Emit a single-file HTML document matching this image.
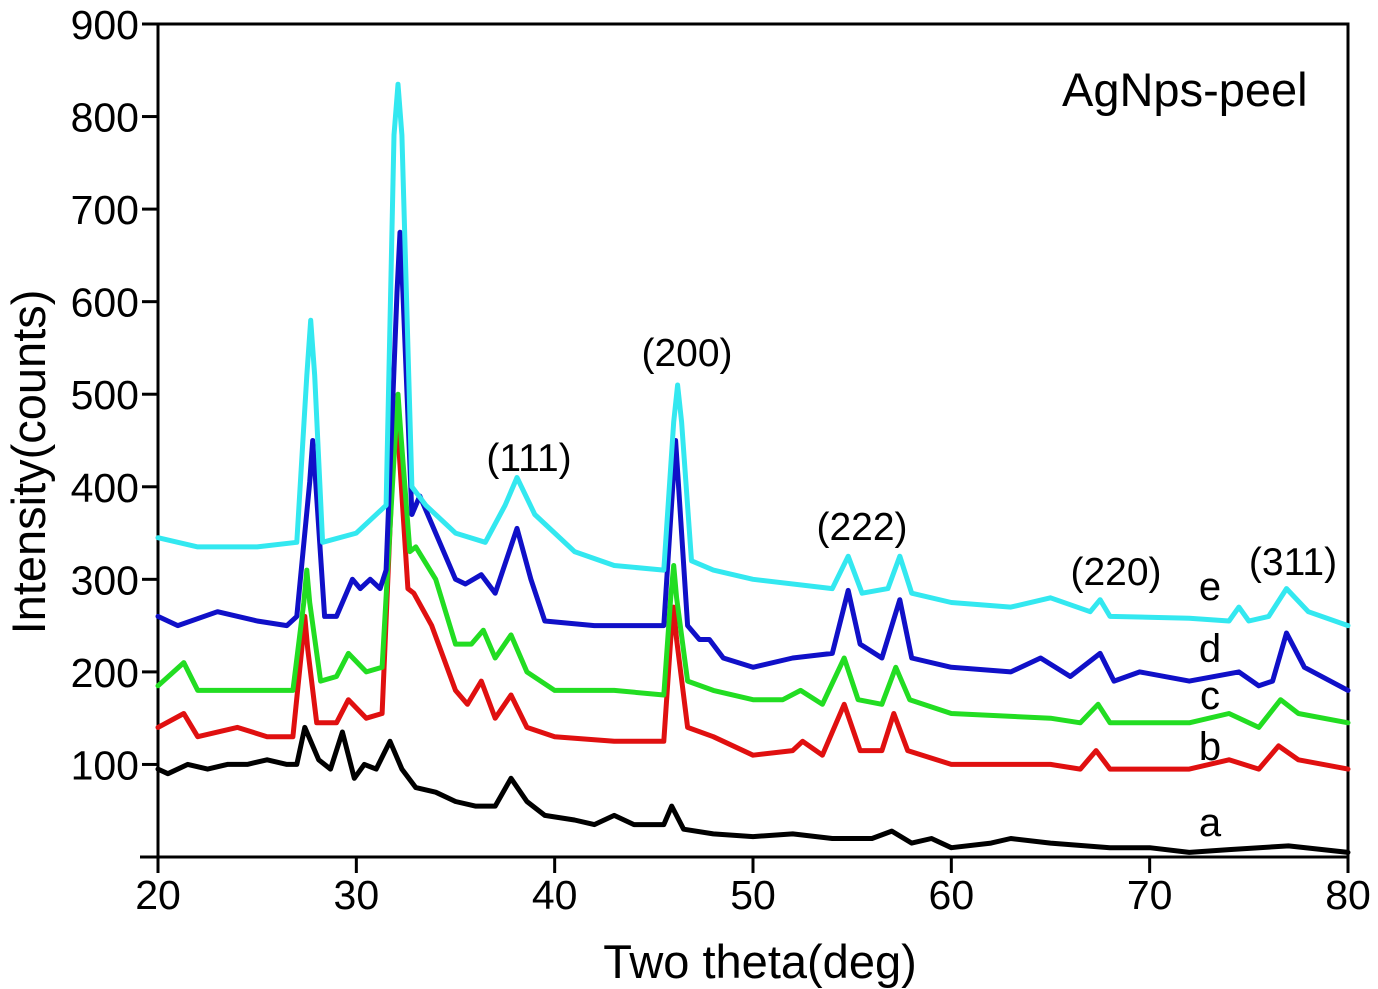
<!DOCTYPE html>
<html><head><meta charset="utf-8"><style>
html,body{margin:0;padding:0;background:#fff;}
svg{display:block;font-family:"Liberation Sans",Arial,sans-serif;}
</style></head><body>
<svg id="chart" width="1378" height="989" viewBox="0 0 1378 989" xmlns="http://www.w3.org/2000/svg">
<rect x="158" y="24" width="1190" height="833" fill="none" stroke="#000" stroke-width="3"/>
<g id="axes"></g>
<g id="series"></g>
<text x="1062" y="106" font-size="47">AgNps-peel</text>
<text x="760" y="978" font-size="47" text-anchor="middle">Two theta(deg)</text>
<text x="0" y="0" font-size="47" text-anchor="middle" transform="translate(45,462) rotate(-90)">Intensity(counts)</text>
<text x="529" y="471" font-size="39" text-anchor="middle">(111)</text>
<text x="687" y="366" font-size="39" text-anchor="middle">(200)</text>
<text x="862" y="540" font-size="39" text-anchor="middle">(222)</text>
<text x="1116" y="585" font-size="39" text-anchor="middle">(220)</text>
<text x="1293" y="575" font-size="39" text-anchor="middle">(311)</text>
<text x="1210" y="600" font-size="40" text-anchor="middle">e</text>
<text x="1210" y="662" font-size="40" text-anchor="middle">d</text>
<text x="1210" y="709" font-size="40" text-anchor="middle">c</text>
<text x="1210" y="760" font-size="40" text-anchor="middle">b</text>
<text x="1210" y="836" font-size="40" text-anchor="middle">a</text>
</svg>
<script>
const xTicks=[20,30,40,50,60,70,80];
const yTicks=[100,200,300,400,500,600,700,800,900];
const aX=[20,20.5,21.5,22.5,23.5,24.5,25.5,26.5,27,27.4,28.1,28.7,29.3,29.9,30.4,31,31.7,32.3,33,34,35,36,37,37.8,38.6,39.5,41,42,43,44,45.5,45.9,46.5,48,50,52,54,56,57,58,59,60,62,63,65,68,70,72,74,77,80];
const aY=[95,90,100,95,100,100,105,100,100,140,105,95,135,85,100,95,125,95,75,70,60,55,55,85,60,45,40,35,45,35,35,55,30,25,22,25,20,20,28,15,20,10,15,20,15,10,10,5,8,12,5];
const bX=[20,21.3,22,24,25.5,26.8,27.25,27.4,27.55,28,29,29.6,30.5,31.3,31.85,32,32.15,32.6,32.9,33.8,35,35.6,36.3,37,37.8,38.6,40,43,45.5,45.85,46,46.15,46.7,48,50,52,52.5,53.5,54.6,55.4,56.5,57.1,57.8,60,65,66.5,67.3,68,72,74,75.5,76.5,77.5,80];
const bY=[140,155,130,140,130,130,225,260,225,145,145,170,150,155,430,480,440,290,285,250,180,165,190,150,175,140,130,125,125,235,270,235,140,130,110,115,125,110,165,115,115,155,115,100,100,95,115,95,95,105,95,120,105,95];
const cX=[20,21.3,22,25,26.8,27.35,27.5,27.65,28.2,29,29.6,30.5,31.3,31.95,32.1,32.25,32.7,33,34,35,35.8,36.4,37,37.8,38.6,40,43,45.5,45.85,46,46.15,46.7,48,50,51.5,52.4,53.5,54.6,55.3,56.5,57.2,57.9,60,65,66.5,67.4,68,72,74,75.5,76.6,77.5,80];
const cY=[185,210,180,180,180,275,310,275,190,195,220,200,205,450,500,455,330,335,300,230,230,245,215,240,200,180,180,175,280,315,280,190,180,170,170,180,165,215,170,165,205,170,155,150,145,165,145,145,155,140,170,155,145];
const dX=[20,21,23,25,26.5,27,27.65,27.8,27.95,28.4,29,29.8,30.2,30.7,31.2,31.5,32.05,32.2,32.35,32.8,33.2,34,35,35.5,36.3,37,38.1,38.8,39.5,42,45.5,45.95,46.1,46.25,46.7,47.3,47.8,48.5,50,52,54,54.8,55.4,56.5,57.4,58,60,63,64.5,66,67.5,68.2,69.5,72,74.5,75.5,76.2,76.9,77.8,80];
const dY=[260,250,265,255,250,260,405,450,405,260,260,300,290,300,290,310,610,675,610,370,390,350,300,295,305,285,355,300,255,250,250,400,450,400,250,235,235,215,205,215,220,288,230,215,278,215,205,200,215,195,220,190,200,190,200,185,190,242,205,180];
const eX=[20,22,25,27,27.5,27.7,27.9,28.3,30,31.5,31.9,32.1,32.3,32.8,33.5,35,36.5,37.5,38.1,39,41,43,45.5,46,46.2,46.4,46.9,48,50,54,54.8,55.5,56.8,57.4,58,60,63,65,67,67.5,68,72,74,74.5,75,76,76.9,78,80];
const eY=[345,335,335,340,520,580,520,340,350,380,780,835,780,400,380,350,340,380,410,370,330,315,310,470,510,470,320,310,300,290,325,285,290,325,285,275,270,280,265,278,260,258,255,270,255,260,290,265,250];
const NS="http://www.w3.org/2000/svg";
const X0=158,X1=1348,Y0=857,YTOP=24;
function sx(v){return X0+(v-20)/(80-20)*(X1-X0);}
function sy(v){return Y0-v/900*(Y0-YTOP);}
const axes=document.getElementById('axes');
function mk(tag,attrs,parent){const e=document.createElementNS(NS,tag);for(const k in attrs)e.setAttribute(k,attrs[k]);parent.appendChild(e);return e;}
mk('line',{x1:140,y1:Y0,x2:X0,y2:Y0,stroke:'#000','stroke-width':3},axes);
xTicks.forEach(t=>{
  const l=mk('line',{x1:sx(t),y1:Y0,x2:sx(t),y2:Y0+16,stroke:'#000','stroke-width':3},axes);
  
  
  const tx=mk('text',{x:sx(t),y:Y0+52,'font-size':41,'text-anchor':'middle'},axes);
  tx.textContent=t;
  
  
});
yTicks.forEach(t=>{
  const l=mk('line',{x1:X0-16,y1:sy(t),x2:X0,y2:sy(t),stroke:'#000','stroke-width':3},axes);
  
  
  const tx=mk('text',{x:139,y:sy(t)+15,'font-size':41,'text-anchor':'end'},axes);
  tx.textContent=t;
  
  
});
const sg=document.getElementById('series');
[[aX,aY,'#000000','a'],[bX,bY,'#e01010','b'],[cX,cY,'#22dd22','c'],[dX,dY,'#1010c8','d'],[eX,eY,'#33e8f0','e']].forEach(s=>{
  const d=s[0].map((x,i)=>(i?'L':'M')+sx(x).toFixed(1)+','+sy(s[1][i]).toFixed(1)).join('');
  const p=mk('path',{d:d,fill:'none',stroke:s[2],'stroke-width':5,'stroke-linejoin':'round','stroke-linecap':'round'},sg);
  
  
});
</script>
</body></html>
